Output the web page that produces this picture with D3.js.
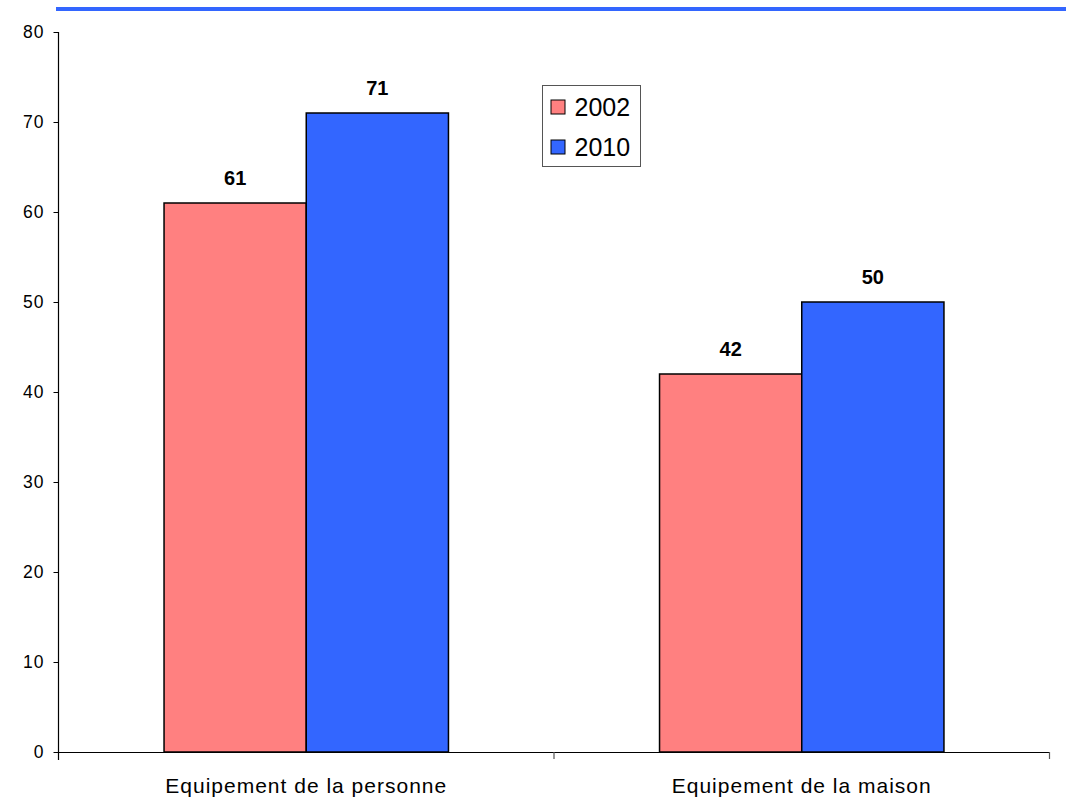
<!DOCTYPE html>
<html>
<head>
<meta charset="utf-8">
<script src="https://cdn.jsdelivr.net/npm/d3@7"></script>
<style>
  html, body { margin: 0; padding: 0; background: #fff; }
  svg { display: block; font-family: "Liberation Sans", Arial, sans-serif; }
</style>
</head>
<body>
<svg id="chart" width="1066" height="799"></svg>
<script>
// Categories, series and axis ticks
const categories = ["Equipement de la personne", "Equipement de la maison"];
const seriesNames = ["2002", "2010"];
const values2002 = [61, 42];
const values2010 = [71, 50];
const yTicks = [0, 10, 20, 30, 40, 50, 60, 70, 80];
const seriesColors = ["#FF8080", "#3366FF"];

(function () {
  const series = [values2002, values2010];

  const svg = d3.select("#chart");
  const plotLeft = 58.5, plotRight = 1049.5, plotTop = 32, plotBottom = 752;

  const x = d3.scaleBand().domain(categories).range([plotLeft, plotRight]).paddingInner(0).paddingOuter(0);
  const y = d3.scaleLinear().domain([0, 80]).range([plotBottom, plotTop]);

  // Bars occupy the middle part of each category band
  const groupWidth = x.bandwidth() * 0.574;
  const xs = d3.scaleBand().domain(seriesNames).range([0, groupWidth]).padding(0);

  // Top rule
  svg.append("rect")
    .attr("x", 56).attr("y", 7).attr("width", 1010).attr("height", 4)
    .attr("fill", "#3366FF");

  // Bars and value labels
  const groups = svg.selectAll("g.cat")
    .data(categories)
    .join("g")
    .attr("class", "cat")
    .attr("transform", c => `translate(${x(c) + (x.bandwidth() - groupWidth) / 2},0)`);

  groups.each(function (c, ci) {
    const g = d3.select(this);
    seriesNames.forEach((s, si) => {
      const v = series[si][ci];
      g.append("rect")
        .attr("x", xs(s))
        .attr("y", y(v))
        .attr("width", xs.bandwidth())
        .attr("height", y(0) - y(v))
        .attr("fill", seriesColors[si])
        .attr("stroke", "#000")
        .attr("stroke-width", 1.5);
      g.append("text")
        .attr("x", xs(s) + xs.bandwidth() / 2)
        .attr("y", y(v) - 18)
        .attr("text-anchor", "middle")
        .attr("font-weight", "bold")
        .attr("font-size", 20)
        .attr("fill", "#000")
        .text(v);
    });
  });

  // Y axis
  const yAxis = d3.axisLeft(y).tickValues(yTicks).tickSize(5).tickPadding(9);
  const yg = svg.append("g").attr("transform", `translate(${plotLeft},0)`).call(yAxis);
  yg.select(".domain").remove();
  yg.append("line").attr("x1", 0).attr("x2", 0).attr("y1", plotTop).attr("y2", plotBottom + 8)
    .attr("stroke", "#000").attr("stroke-width", 1.2);
  yg.selectAll(".tick line").attr("stroke", "#000");
  yg.selectAll(".tick text")
    .attr("fill", "#000")
    .style("font-size", "17.5px")
    .style("letter-spacing", "1px")
    .style("font-family", "Liberation Sans, Arial, sans-serif");

  // X axis with category boundary ticks
  const xg = svg.append("g").attr("transform", `translate(0,${plotBottom})`);
  xg.append("line").attr("x1", plotLeft).attr("x2", plotRight).attr("y1", 0.5).attr("y2", 0.5)
    .attr("stroke", "#000").attr("stroke-width", 1.2);
  const boundaries = categories.map(c => x(c)).concat([x(categories[categories.length - 1]) + x.bandwidth()]);
  xg.selectAll("line.b").data(boundaries.slice(1)).join("line")
    .attr("class", "b")
    .attr("x1", d => d).attr("x2", d => d).attr("y1", 0).attr("y2", 7)
    .attr("stroke", "#555").attr("stroke-width", 1.2);
  xg.selectAll("text.cat").data(categories).join("text")
    .attr("class", "cat")
    .attr("x", c => x(c) + x.bandwidth() / 2)
    .attr("y", 41)
    .attr("text-anchor", "middle")
    .attr("font-size", 21)
    .attr("letter-spacing", 1)
    .attr("fill", "#000")
    .text(c => c);

  // Legend
  const legend = svg.append("g").attr("transform", "translate(542.5,85.5)");
  legend.append("rect").attr("width", 98).attr("height", 81)
    .attr("fill", "#fff").attr("stroke", "#555").attr("stroke-width", 1);
  seriesNames.forEach((s, i) => {
    const row = legend.append("g").attr("transform", `translate(0,${30.5 + i * 40})`);
    row.append("rect").attr("x", 8.5).attr("y", -16).attr("width", 14).attr("height", 14)
      .attr("fill", seriesColors[i]).attr("stroke", "#000").attr("stroke-width", 1);
    row.append("text").attr("x", 32).attr("y", 0).attr("font-size", 25).attr("fill", "#000")
      .text(s);
  });
})();
</script>
</body>
</html>
